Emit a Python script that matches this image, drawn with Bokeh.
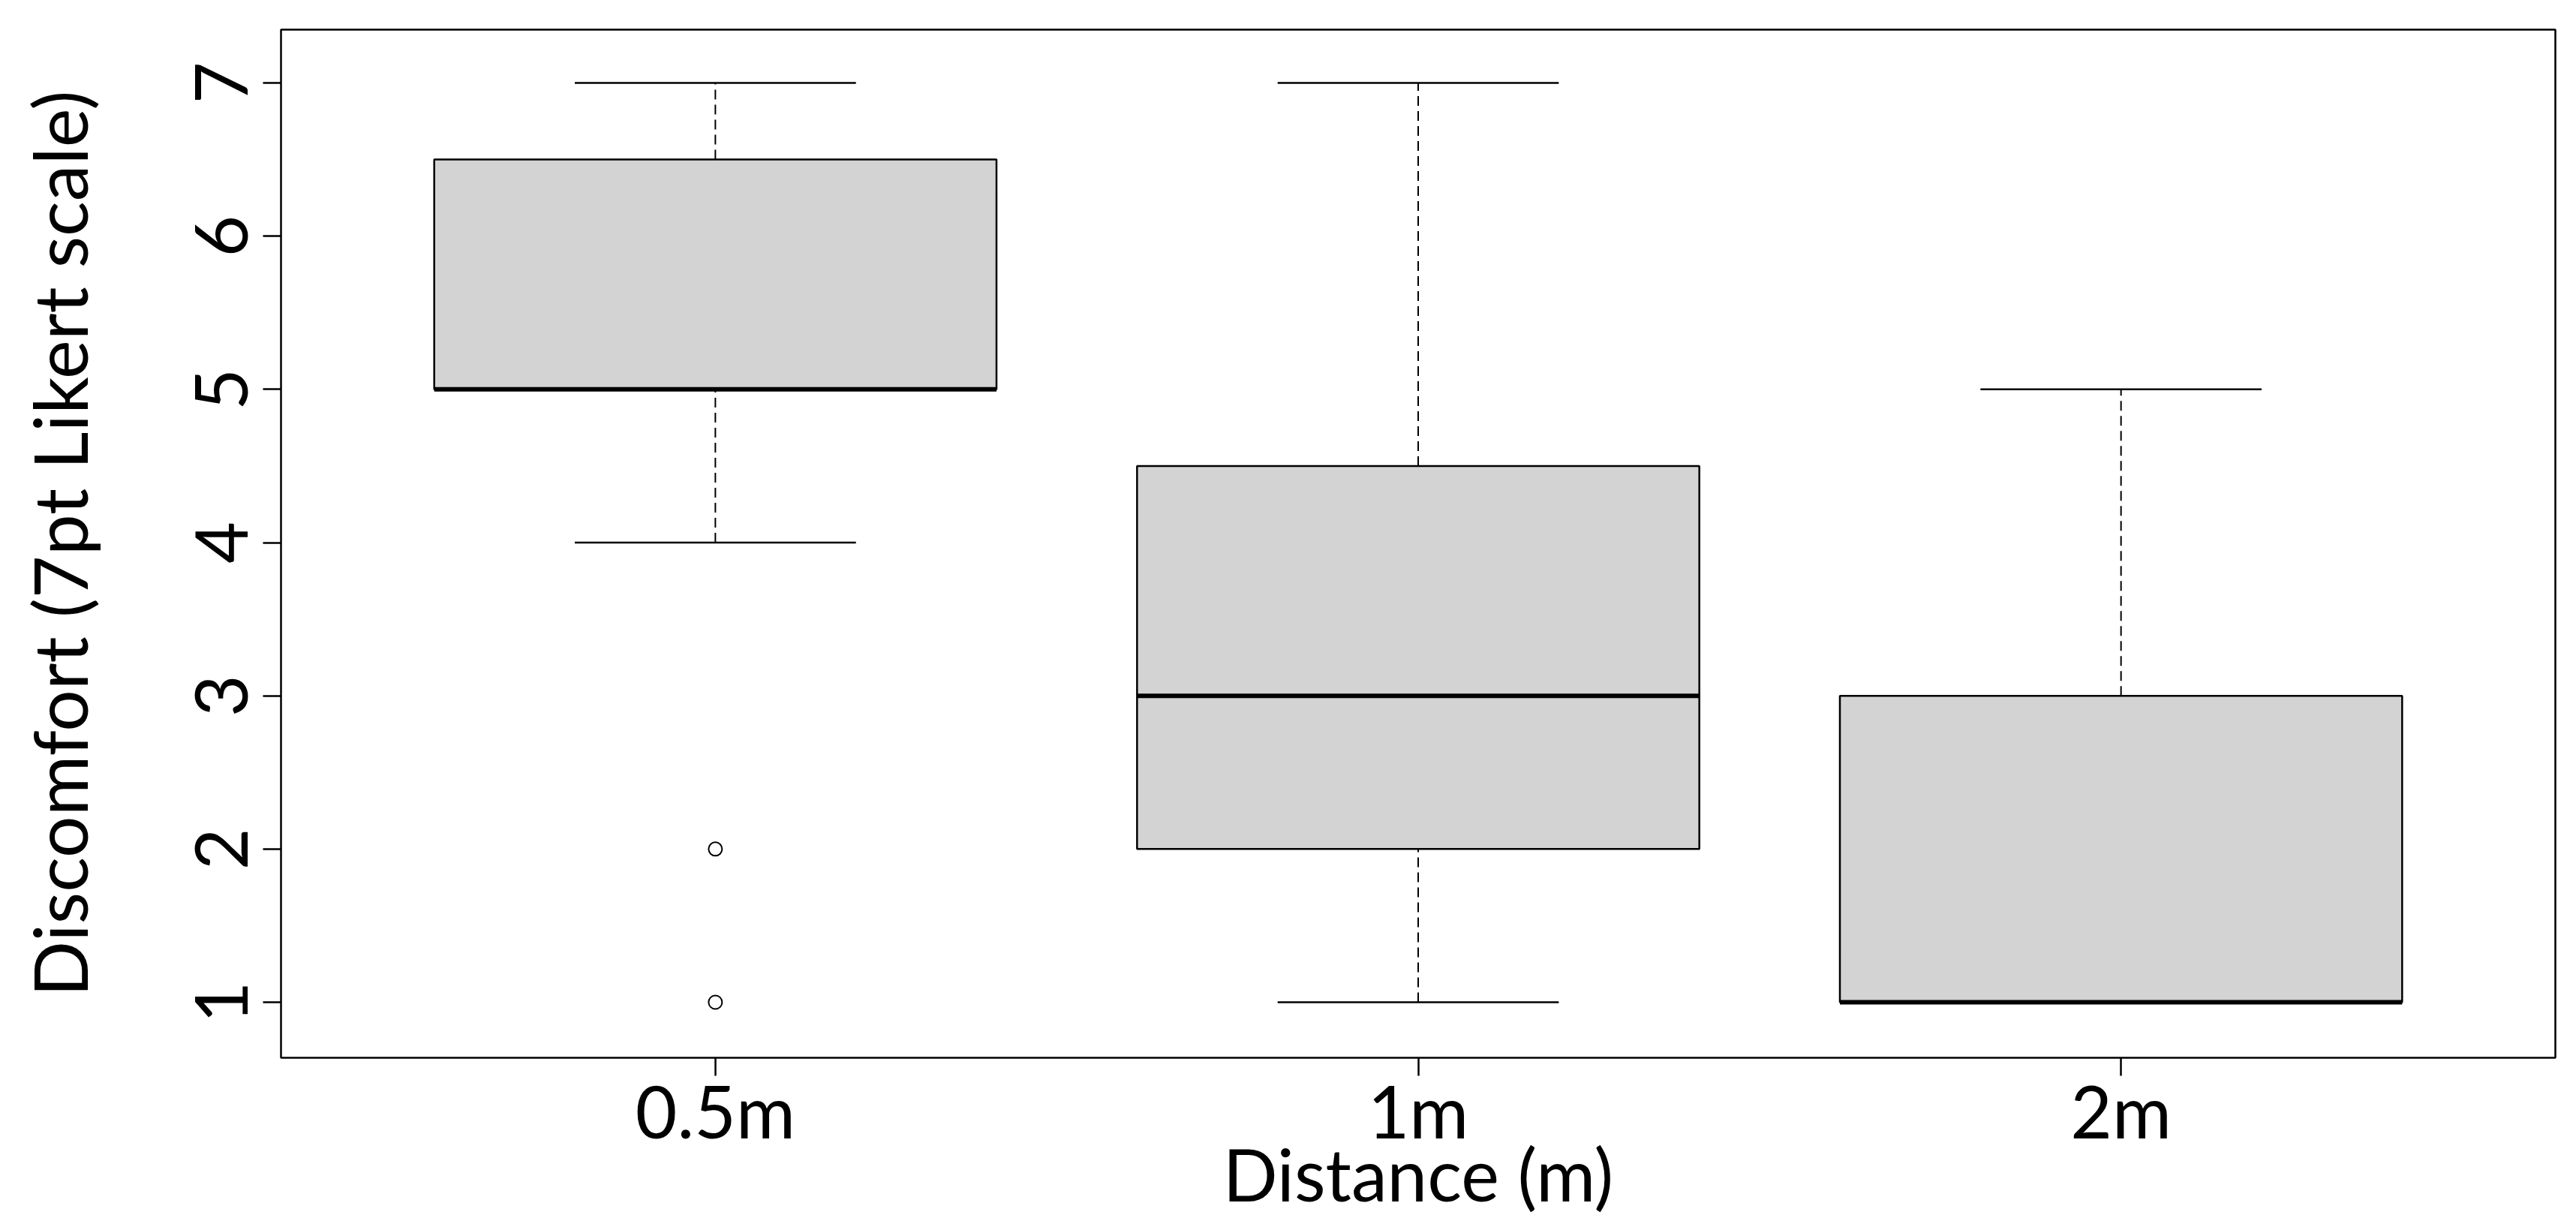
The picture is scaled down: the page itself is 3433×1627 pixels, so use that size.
from bokeh.plotting import figure
from bokeh.models import ColumnDataSource, FactorRange, Range1d, FixedTicker
from bokeh.transform import dodge
from bokeh.embed import file_html
from bokeh.resources import INLINE

# ---- data ----
categories = ["0.5m", "1m", "2m"]
whisker_low = [4, 1, 1]
q1 = [5, 2, 1]
median = [5, 3, 1]
q3 = [6.5, 4.5, 3]
whisker_high = [7, 7, 5]
outlier_cat = ["0.5m", "0.5m"]
outlier_val = [2, 1]
y_ticks = [1, 2, 3, 4, 5, 6, 7]
x_title = "Distance (m)"
y_title = "Discomfort (7pt Likert scale)"

FONT = "Lato"
FS = "96px"

W, H = 3417, 1625
MB_L, MB_R, MB_T, MB_B = 374, 12, 39, 216
Y0, Y1 = 0.6376, 7.3478

src = ColumnDataSource(dict(cat=categories, lo=whisker_low, q1=q1, med=median,
                            q3=q3, hi=whisker_high))
out_src = ColumnDataSource(dict(cat=outlier_cat, val=outlier_val))

xr = FactorRange(*categories, range_padding=0.118, range_padding_units="absolute")
p = figure(width=W, height=H, x_range=xr, y_range=Range1d(Y0, Y1),
           output_backend="svg", toolbar_location=None,
           min_border_left=MB_L, min_border_right=MB_R, min_border_top=MB_T,
           min_border_bottom=MB_B)

p.grid.visible = False
p.background_fill_color = "white"
p.border_fill_color = "white"
p.outline_line_color = "black"
p.outline_line_width = 2.5

# whiskers (dashed)
p.segment(x0="cat", y0="q3", x1="cat", y1="hi", source=src, line_color="black",
          line_width=2, line_dash="13 7")
p.segment(x0="cat", y0="lo", x1="cat", y1="q1", source=src, line_color="black",
          line_width=2, line_dash="13 7")
# caps
for col in ("hi", "lo"):
    p.segment(x0=dodge("cat", -0.2, range=xr), x1=dodge("cat", 0.2, range=xr),
              y0=col, y1=col, source=src, line_color="black", line_width=2.5)
# boxes
p.vbar(x="cat", bottom="q1", top="q3", width=0.8, source=src,
       fill_color="#D3D3D3", line_color="black", line_width=2.5)
# medians
p.segment(x0=dodge("cat", -0.4, range=xr), x1=dodge("cat", 0.4, range=xr),
          y0="med", y1="med", source=src, line_color="black", line_width=6)
# outliers
p.scatter(x="cat", y="val", source=out_src, marker="circle", size=18,
          fill_color="white", line_color="black", line_width=2)

# axes
for ax in (p.xaxis[0], p.yaxis[0]):
    ax.axis_line_color = None
    ax.major_tick_out = 24
    ax.major_tick_in = 0
    ax.major_tick_line_width = 2.5
    ax.major_tick_line_color = "black"
    ax.minor_tick_line_color = None
    ax.major_label_text_font = FONT
    ax.major_label_text_font_size = FS
    ax.major_label_text_color = "black"
    ax.axis_label_text_font = FONT
    ax.axis_label_text_font_size = FS
    ax.axis_label_text_font_style = "normal"
    ax.axis_label_text_color = "black"

p.xaxis.axis_label = x_title
p.xaxis.major_label_standoff = -12
p.xaxis.axis_label_standoff = -34

p.yaxis.axis_label = y_title
p.yaxis.axis_label_text_font_size = "98px"
p.yaxis.ticker = FixedTicker(ticks=y_ticks)
p.yaxis.major_label_orientation = "vertical"
p.yaxis.major_label_standoff = 20
p.yaxis.axis_label_standoff = 120

open("out.html", "w").write(file_html(p, INLINE))
